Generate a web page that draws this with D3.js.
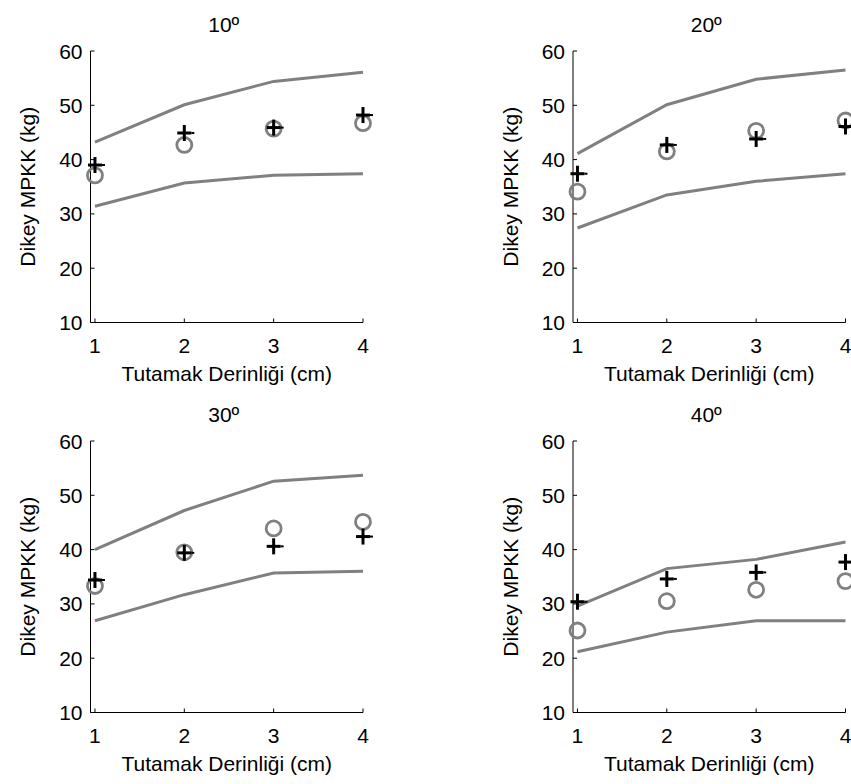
<!DOCTYPE html>
<html>
<head>
<meta charset="utf-8">
<script src="https://cdn.jsdelivr.net/npm/d3@7/dist/d3.min.js"></script>
<style>
  html, body { margin: 0; padding: 0; background: #fff; }
  svg { display: block; }
  text { font-family: "Liberation Sans", Arial, sans-serif; fill: #000; }
</style>
</head>
<body>
<svg id="chart" width="851" height="784"></svg>
<script>
// ---- data ----
const titles = ["10º", "20º", "30º", "40º"];
const depths = [1, 2, 3, 4];
const xTicks = [1, 2, 3, 4];
const yTicks = [10, 20, 30, 40, 50, 60];
const upperLines = [
  [43.2, 50.1, 54.4, 56.1],
  [41.1, 50.1, 54.8, 56.5],
  [40.0, 47.2, 52.6, 53.7],
  [29.6, 36.5, 38.2, 41.4]
];
const lowerLines = [
  [31.4, 35.7, 37.1, 37.4],
  [27.4, 33.5, 36.0, 37.4],
  [26.9, 31.7, 35.7, 36.0],
  [21.2, 24.8, 26.9, 26.9]
];
const circleVals = [
  [37.1, 42.7, 45.7, 46.7],
  [34.1, 41.5, 45.3, 47.2],
  [33.3, 39.5, 43.9, 45.1],
  [25.1, 30.5, 32.6, 34.2]
];
const plusVals = [
  [39.0, 44.9, 45.9, 48.2],
  [37.4, 42.7, 43.8, 46.1],
  [34.4, 39.4, 40.6, 42.4],
  [30.4, 34.6, 35.8, 37.7]
];
const xLabel = "Tutamak Derinliği (cm)";
const yLabel = "Dikey MPKK (kg)";

// ---- layout ----
const lefts = [90.5, 573];
const tops = [51, 441];
const W = 272.5, H = 271.5;
const FS = 21;
const grey = "#808080";
const svg = d3.select("#chart");

titles.forEach((title, i) => {
  const col = i % 2, row = Math.floor(i / 2);
  const x0 = lefts[col], y0 = tops[row];
  const x = d3.scaleLinear().domain([0.95, 4]).range([x0, x0 + W]);
  const y = d3.scaleLinear().domain([10, 60]).range([y0 + H, y0]);
  const g = svg.append("g");

  // axes
  g.append("line").attr("x1", x0).attr("x2", x0).attr("y1", y0).attr("y2", y0 + H)
    .attr("stroke", "#000").attr("stroke-width", 1);
  g.append("line").attr("x1", x0).attr("x2", x0 + W).attr("y1", y0 + H).attr("y2", y0 + H)
    .attr("stroke", "#000").attr("stroke-width", 1);

  // y ticks (inward)
  yTicks.forEach(t => {
    g.append("line").attr("x1", x0).attr("x2", x0 + 4).attr("y1", y(t)).attr("y2", y(t))
      .attr("stroke", "#000").attr("stroke-width", 1);
    g.append("text").attr("x", x0 - 8).attr("y", y(t)).attr("dy", "0.36em")
      .attr("text-anchor", "end").attr("font-size", FS).text(t);
  });
  // x ticks (inward)
  xTicks.forEach(t => {
    g.append("line").attr("x1", x(t)).attr("x2", x(t)).attr("y1", y0 + H).attr("y2", y0 + H - 4)
      .attr("stroke", "#000").attr("stroke-width", 1);
    g.append("text").attr("x", x(t)).attr("y", y0 + H + 30)
      .attr("text-anchor", "middle").attr("font-size", FS).text(t);
  });

  // labels
  g.append("text").attr("x", x0 + W / 2).attr("y", y0 + H + 58)
    .attr("text-anchor", "middle").attr("font-size", FS).text(xLabel);
  g.append("text")
    .attr("transform", `translate(${x0 - 55.5},${y0 + H / 2}) rotate(-90)`)
    .attr("text-anchor", "middle").attr("font-size", FS).text(yLabel);
  g.append("text").attr("x", x0 + W / 2 - 3).attr("y", y0 - 19)
    .attr("text-anchor", "middle").attr("font-size", FS).text(title);

  // band lines
  const line = d3.line().x((d, k) => x(depths[k])).y(d => y(d));
  [upperLines[i], lowerLines[i]].forEach(arr => {
    g.append("path").datum(arr).attr("d", line)
      .attr("fill", "none").attr("stroke", grey).attr("stroke-width", 3);
  });

  // circles
  g.selectAll(null).data(circleVals[i]).enter().append("circle")
    .attr("cx", (d, k) => x(depths[k])).attr("cy", d => y(d)).attr("r", 7.5)
    .attr("fill", "none").attr("stroke", grey).attr("stroke-width", 2.8);

  // plus markers
  const plus = g.selectAll(null).data(plusVals[i]).enter().append("g")
    .attr("transform", (d, k) => `translate(${x(depths[k])},${y(d)})`);
  plus.append("line").attr("x1", 0).attr("x2", 0).attr("y1", -8).attr("y2", 8)
    .attr("stroke", "#000").attr("stroke-width", 3);
  plus.append("line").attr("x1", -7).attr("x2", 7).attr("y1", 0).attr("y2", 0)
    .attr("stroke", "#000").attr("stroke-width", 3);
  plus.append("line").attr("x1", 7).attr("x2", 10).attr("y1", 0).attr("y2", 0)
    .attr("stroke", "#000").attr("stroke-width", 2);
});
</script>
</body>
</html>
